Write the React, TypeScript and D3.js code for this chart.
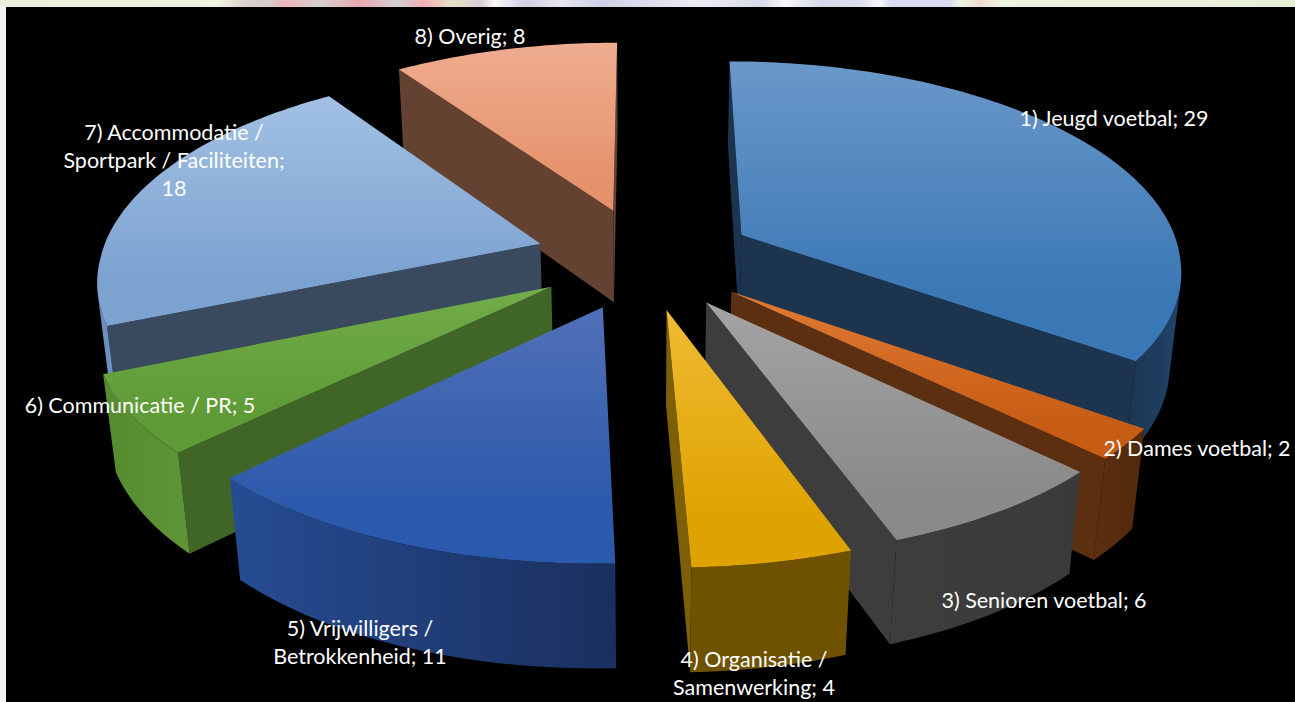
import React from "react";
import * as d3 from "d3";

const categories = [
  "1) Jeugd voetbal",
  "2) Dames voetbal",
  "3) Senioren voetbal",
  "4) Organisatie / Samenwerking",
  "5) Vrijwilligers / Betrokkenheid",
  "6) Communicatie / PR",
  "7) Accommodatie / Sportpark / Faciliteiten",
  "8) Overig",
];
const values = [29, 2, 6, 4, 11, 5, 18, 8];

const labelLines = [
  ["1) Jeugd voetbal; 29"],
  ["2) Dames voetbal; 2"],
  ["3) Senioren voetbal; 6"],
  ["4) Organisatie /", "Samenwerking; 4"],
  ["5) Vrijwilligers /", "Betrokkenheid; 11"],
  ["6) Communicatie / PR; 5"],
  ["7) Accommodatie /", "Sportpark / Faciliteiten;", "18"],
  ["8) Overig; 8"],
];

// layout & styling (per slice)
const labelAnchors = [
  [1114, 118], [1197, 448], [1044, 600], [754, 659], [360, 628], [140, 405], [174, 132], [470, 36],
];
const topColors = [
  ["#6a98c9", "#3a77b5"], ["#e07a33", "#c75c14"], ["#a4a4a4", "#8a8a8a"], ["#f0bb35", "#dfa300"],
  ["#5170b8", "#2b59ab"], ["#72ad4a", "#5e9a35"], ["#a2c0e4", "#7ca2d0"], ["#efac8f", "#e5936c"],
];
const radialWall = ["#1d344f", "#5c2f10", "#3d3d3d", "#7d5f08", "#1f3a75", "#3f6626", "#3a4a5e", "#644232"];
const rimWall = [
  ["#1d344f", "#1f4468"], ["#5c2f10", "#52290c"], ["#3d3d3d", "#3a3a3a"], ["#6e5200", "#6e5200"],
  ["#264c93", "#1a2f5e"], ["#558a30", "#5f9438"], ["#6b8fc0", "#6b8fc0"], ["#644232", "#644232"],
];
const stripStops: [number, string][] = [
  [0, "#e9f0db"], [220, "#eef3e2"], [245, "#dcd0cc"], [270, "#d8cccc"], [285, "#efb5bc"], [320, "#d8d0d0"],
  [360, "#eaa8b0"], [395, "#d5cfd0"], [425, "#f2b0b4"], [450, "#e8e0c8"], [480, "#d8d0d0"], [495, "#f8f8fa"],
  [525, "#d0d0e8"], [560, "#e6e6f0"], [600, "#cfd2e6"], [700, "#ececf4"], [760, "#d6dae8"], [785, "#f8f8fa"],
  [820, "#d4d8ea"], [860, "#dcdeee"], [880, "#f8f8fc"], [890, "#d8dcf0"], [950, "#d8dcf0"], [960, "#eef3e2"],
  [980, "#f0d8d0"], [1000, "#eef3e2"], [1295, "#e6efd8"],
];

const W = 1295;
const H = 702;
const RADIUS = 4; // in units of the explosion offset
const cam = { cx: 645, A: 110, q: 0.0356, nearX: 0.0035, r: 0.022, vy: -1178, h: 1436, b: 127 };

type P = [number, number];
const project = (X: number, Y: number, Z: number): P => {
  const w = 1 + cam.q * Y + cam.r * Z;
  const wx = w + cam.nearX * Math.min(Y, 0);
  return [cam.cx + (cam.A * X) / wx, cam.vy + (cam.h + cam.b * Z) / w];
};
const lineGen = d3.line<P>().x((d) => d[0]).y((d) => d[1]);
const area = (pts: P[]) => d3.polygonArea(pts); // positive = counterclockwise on screen

const pie = d3.pie<number>().sort(null).startAngle(0).endAngle(2 * Math.PI);
const arcs = pie(values);

type Slice = {
  i: number;
  depth: number;
  top: P[];
  radials: { pts: P[]; visible: boolean }[];
  rim: P[] | null;
};

const slices: Slice[] = arcs.map((arc, i) => {
  const mid = (arc.startAngle + arc.endAngle) / 2;
  const ox = Math.sin(mid);
  const oy = Math.cos(mid);
  const steps = Math.max(4, Math.ceil(((arc.endAngle - arc.startAngle) * 180) / Math.PI));
  const angles = d3.range(steps + 1).map((k) => arc.startAngle + ((arc.endAngle - arc.startAngle) * k) / steps);
  const at = (a: number, rad: number, z: number) =>
    project(ox + rad * Math.sin(a), oy + rad * Math.cos(a), z);

  const top: P[] = [at(0, 0, 0), ...angles.map((a) => at(a, RADIUS, 0))];

  const wall = (a: number) => [at(a, 0, 0), at(a, RADIUS, 0), at(a, RADIUS, 1), at(a, 0, 1)] as P[];
  const startWall = wall(arc.startAngle);
  const endWall = wall(arc.endAngle);
  const radials = [
    { pts: startWall, visible: area(startWall) > 0 },
    { pts: endWall, visible: area(endWall) < 0 },
  ];

  const visAngles: number[] = [];
  for (let k = 0; k < steps; k++) {
    const a0 = angles[k];
    const a1 = angles[k + 1];
    const quad: P[] = [at(a0, RADIUS, 0), at(a1, RADIUS, 0), at(a1, RADIUS, 1), at(a0, RADIUS, 1)];
    if (area(quad) > 0) {
      if (!visAngles.length) visAngles.push(a0);
      visAngles.push(a1);
    }
  }
  const rim = visAngles.length
    ? [...visAngles.map((a) => at(a, RADIUS, 0)), ...visAngles.slice().reverse().map((a) => at(a, RADIUS, 1))]
    : null;

  return { i, depth: oy, top, radials, rim };
});

const drawOrder = slices.slice().sort((a, b) => d3.descending(a.depth, b.depth));

export default function App() {
  return (
    <svg
      width={W}
      height={H}
      viewBox={`0 0 ${W} ${H}`}
      style={{ position: "fixed", left: 0, top: 0, display: "block" }}
    >
      <defs>
        <linearGradient id="strip" gradientUnits="userSpaceOnUse" x1={0} x2={W} y1={0} y2={0}>
          {stripStops.map(([x, c], k) => (
            <stop key={k} offset={x / W} stopColor={c} />
          ))}
        </linearGradient>
        {slices.map((s) => (
          <React.Fragment key={s.i}>
            <linearGradient id={`top${s.i}`} x1="0" x2="0" y1="0" y2="1">
              <stop offset="0" stopColor={topColors[s.i][0]} />
              <stop offset="0.8" stopColor={topColors[s.i][1]} />
              <stop offset="1" stopColor={topColors[s.i][1]} />
            </linearGradient>
            <linearGradient id={`rim${s.i}`} x1="0" x2="1" y1="0" y2="0">
              <stop offset="0" stopColor={rimWall[s.i][0]} />
              <stop offset="1" stopColor={rimWall[s.i][1]} />
            </linearGradient>
          </React.Fragment>
        ))}
      </defs>
      <rect x={0} y={0} width={W} height={H} fill="#f4f5ee" />
      <rect x={0} y={0} width={W} height={7} fill="url(#strip)" />
      <rect x={6} y={7} width={W - 6} height={H - 7} fill="#000" />
      {drawOrder.map((s) => (
        <g key={s.i} data-category={categories[s.i]}>
          {s.radials
            .filter((r) => r.visible)
            .map((r, k) => (
              <path key={k} d={lineGen(r.pts) + "Z"} fill={radialWall[s.i]} />
            ))}
          {s.rim && <path d={lineGen(s.rim) + "Z"} fill={`url(#rim${s.i})`} />}
          <path d={lineGen(s.top) + "Z"} fill={`url(#top${s.i})`} />
        </g>
      ))}
      <g fontFamily="Lato, Carlito, sans-serif" fontSize={21.5} fill="#fff" textAnchor="middle">
        {labelLines.map((lines, i) =>
          lines.map((t, k) => (
            <text key={`${i}-${k}`} x={labelAnchors[i][0]} y={labelAnchors[i][1] + k * 28} dy="0.35em">
              {t}
            </text>
          ))
        )}
      </g>
    </svg>
  );
}
